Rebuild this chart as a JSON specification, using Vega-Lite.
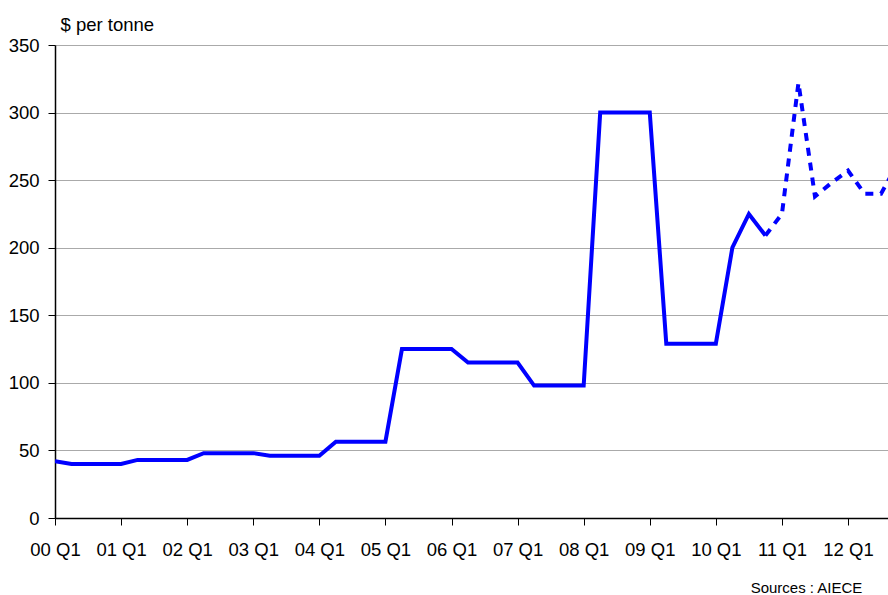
{
  "$schema": "https://vega.github.io/schema/vega-lite/v6.json",
  "width": 833,
  "height": 473,
  "autosize": {"type": "none"},
  "padding": {"left": 55, "top": 45, "right": 0, "bottom": 77},
  "background": "white",
  "config": {
    "font": "Liberation Sans",
    "view": {"stroke": null},
    "axis": {"labelFont": "Liberation Sans", "titleFont": "Liberation Sans"}
  },
  "data": {
    "values": [
      {"q": 0, "value": 42, "series": "actual"},
      {"q": 1, "value": 40, "series": "actual"},
      {"q": 2, "value": 40, "series": "actual"},
      {"q": 3, "value": 40, "series": "actual"},
      {"q": 4, "value": 40, "series": "actual"},
      {"q": 5, "value": 43, "series": "actual"},
      {"q": 6, "value": 43, "series": "actual"},
      {"q": 7, "value": 43, "series": "actual"},
      {"q": 8, "value": 43, "series": "actual"},
      {"q": 9, "value": 48, "series": "actual"},
      {"q": 10, "value": 48, "series": "actual"},
      {"q": 11, "value": 48, "series": "actual"},
      {"q": 12, "value": 48, "series": "actual"},
      {"q": 13, "value": 46, "series": "actual"},
      {"q": 14, "value": 46, "series": "actual"},
      {"q": 15, "value": 46, "series": "actual"},
      {"q": 16, "value": 46, "series": "actual"},
      {"q": 17, "value": 56.5, "series": "actual"},
      {"q": 18, "value": 56.5, "series": "actual"},
      {"q": 19, "value": 56.5, "series": "actual"},
      {"q": 20, "value": 56.5, "series": "actual"},
      {"q": 21, "value": 125, "series": "actual"},
      {"q": 22, "value": 125, "series": "actual"},
      {"q": 23, "value": 125, "series": "actual"},
      {"q": 24, "value": 125, "series": "actual"},
      {"q": 25, "value": 115, "series": "actual"},
      {"q": 26, "value": 115, "series": "actual"},
      {"q": 27, "value": 115, "series": "actual"},
      {"q": 28, "value": 115, "series": "actual"},
      {"q": 29, "value": 98, "series": "actual"},
      {"q": 30, "value": 98, "series": "actual"},
      {"q": 31, "value": 98, "series": "actual"},
      {"q": 32, "value": 98, "series": "actual"},
      {"q": 33, "value": 300, "series": "actual"},
      {"q": 34, "value": 300, "series": "actual"},
      {"q": 35, "value": 300, "series": "actual"},
      {"q": 36, "value": 300, "series": "actual"},
      {"q": 37, "value": 129, "series": "actual"},
      {"q": 38, "value": 129, "series": "actual"},
      {"q": 39, "value": 129, "series": "actual"},
      {"q": 40, "value": 129, "series": "actual"},
      {"q": 41, "value": 200, "series": "actual"},
      {"q": 42, "value": 225, "series": "actual"},
      {"q": 43, "value": 209, "series": "actual"},
      {"q": 43, "value": 209, "series": "forecast"},
      {"q": 44, "value": 225, "series": "forecast"},
      {"q": 45, "value": 322, "series": "forecast"},
      {"q": 46, "value": 238, "series": "forecast"},
      {"q": 47, "value": 248, "series": "forecast"},
      {"q": 48, "value": 257, "series": "forecast"},
      {"q": 49, "value": 240, "series": "forecast"},
      {"q": 50, "value": 240, "series": "forecast"},
      {"q": 51, "value": 262, "series": "forecast"}
    ]
  },
  "encoding": {
    "x": {
      "field": "q",
      "type": "quantitative",
      "scale": {"domain": [0, 50.42], "nice": false, "zero": false},
      "axis": {
        "values": [0, 4, 8, 12, 16, 20, 24, 28, 32, 36, 40, 44, 48],
        "labelExpr": "(datum.value / 4 < 10 ? '0' : '') + (datum.value / 4) + ' Q1'",
        "grid": false,
        "domainColor": "#000000",
        "domainWidth": 1.5,
        "tickColor": "#000000",
        "tickSize": 7,
        "tickWidth": 1,
        "labelFontSize": 18.5,
        "labelColor": "#000000",
        "labelPadding": 15,
        "labelFlush": false,
        "labelOverlap": false,
        "title": "Sources : AIECE",
        "titleFontSize": 15,
        "titleFontWeight": "normal",
        "titleColor": "#000000",
        "titleX": 751,
        "titleY": 74,
        "titleAlign": "center",
        "titleBaseline": "alphabetic",
        "titleAnchor": null
      }
    },
    "y": {
      "field": "value",
      "type": "quantitative",
      "scale": {"domain": [0, 350], "nice": false},
      "axis": {
        "values": [0, 50, 100, 150, 200, 250, 300, 350],
        "grid": true,
        "gridColor": "#aaaaaa",
        "gridWidth": 1,
        "domainColor": "#000000",
        "domainWidth": 1.5,
        "tickColor": "#000000",
        "tickSize": 7,
        "labelFontSize": 18.5,
        "labelColor": "#000000",
        "labelPadding": 9,
        "labelFlush": false,
        "title": "$ per tonne",
        "titleAngle": 0,
        "titleAlign": "left",
        "titleBaseline": "alphabetic",
        "titleX": 5,
        "titleY": -15,
        "titleFontSize": 18.5,
        "titleFontWeight": "normal",
        "titleColor": "#000000"
      }
    }
  },
  "layer": [
    {
      "transform": [{"filter": "datum.series === 'actual'"}],
      "mark": {"type": "line", "color": "#0000ff", "strokeWidth": 4, "clip": true, "strokeJoin": "miter"}
    },
    {
      "transform": [{"filter": "datum.series === 'forecast'"}],
      "mark": {"type": "line", "color": "#0000ff", "strokeWidth": 4, "clip": true, "strokeDash": [8, 7], "strokeJoin": "miter"}
    }
  ]
}
